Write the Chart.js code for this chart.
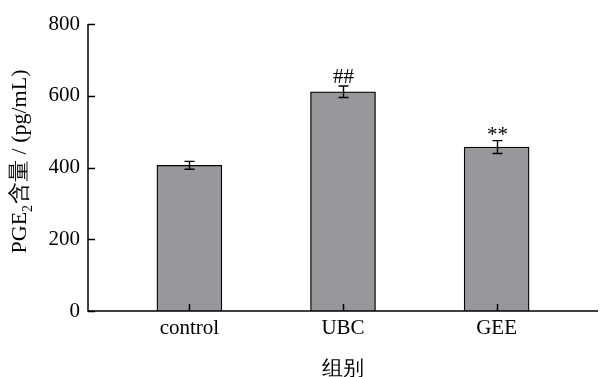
<!DOCTYPE html>
<html>
<head>
<meta charset="utf-8">
<script src="https://cdn.jsdelivr.net/npm/chart.js@4"></script>
<style>
  html, body { margin: 0; padding: 0; background: #fff; }
  #wrap { width: 600px; height: 377px; }
</style>
</head>
<body>
<div id="wrap"><canvas id="pge-chart"></canvas></div>
<script>
// groups, means, SD and significance marks
const groups = ["control", "UBC", "GEE"];
const groupPos = [1, 2, 3];
const means = [406, 611, 457];
const errors = [11, 16, 18];
const marks = ["", "##", "**"];
const yTicks = [0, 200, 400, 600, 800];

const serif = "'Liberation Serif', 'Times New Roman', serif";

// axes with inward ticks, error bars, marks and titles
const extras = {
    id: 'extras',
    afterDatasetsDraw(chart) {
        const ctx = chart.ctx;
        const x = chart.scales.x;
        const y = chart.scales.y;
        const a = chart.chartArea;
        ctx.save();
        ctx.strokeStyle = '#000';
        ctx.lineWidth = 1.5;

        // axis lines
        ctx.beginPath();
        ctx.moveTo(a.left, a.top);
        ctx.lineTo(a.left, y.getPixelForValue(0));
        ctx.lineTo(a.right, y.getPixelForValue(0));
        ctx.stroke();

        // inward ticks
        ctx.beginPath();
        yTicks.forEach(v => {
            const py = Math.round(y.getPixelForValue(v)) + 0.5;
            ctx.moveTo(a.left, py);
            ctx.lineTo(a.left + 7, py);
        });
        groupPos.forEach(p => {
            const px = Math.round(x.getPixelForValue(p)) + 0.5;
            ctx.moveTo(px, y.getPixelForValue(0));
            ctx.lineTo(px, y.getPixelForValue(0) - 7);
        });
        ctx.stroke();

        // error bars
        ctx.lineWidth = 1.4;
        groupPos.forEach((p, i) => {
            const px = Math.round(x.getPixelForValue(p)) + 0.5;
            const top = y.getPixelForValue(means[i] + errors[i]);
            const bot = y.getPixelForValue(means[i] - errors[i]);
            ctx.beginPath();
            ctx.moveTo(px, top); ctx.lineTo(px, bot);
            ctx.moveTo(px - 5, top); ctx.lineTo(px + 5, top);
            ctx.moveTo(px - 5, bot); ctx.lineTo(px + 5, bot);
            ctx.stroke();

            if (marks[i]) {
                ctx.font = '21px ' + serif;
                ctx.fillStyle = '#000';
                ctx.textAlign = 'center';
                ctx.textBaseline = 'alphabetic';
                const m = ctx.measureText(marks[i]);
                const h = m.actualBoundingBoxAscent + m.actualBoundingBoxDescent;
                const centre = top - 10;
                ctx.fillText(marks[i], px, centre + h / 2 - m.actualBoundingBoxDescent);
            }
        });

        // x title
        ctx.fillStyle = '#000';
        ctx.font = '21px ' + serif;
        ctx.textAlign = 'center';
        ctx.textBaseline = 'middle';
        ctx.fillText('组别', (a.left + a.right) / 2, 369);

        // y title with subscript
        ctx.translate(20, 162);
        ctx.rotate(-Math.PI / 2);
        ctx.textBaseline = 'middle';
        ctx.textAlign = 'left';
        const p1 = 'PGE', p2 = '2', p3 = '含量 / (pg/mL)';
        ctx.font = '22px ' + serif;
        const w1 = ctx.measureText(p1).width;
        const w3 = ctx.measureText(p3).width;
        ctx.font = '14px ' + serif;
        const w2 = ctx.measureText(p2).width;
        let cx = -(w1 + w2 + w3) / 2;
        ctx.font = '22px ' + serif;
        ctx.fillText(p1, cx, 0);
        cx += w1;
        ctx.font = '14px ' + serif;
        ctx.fillText(p2, cx, 8);
        cx += w2 + 1;
        ctx.font = '22px ' + serif;
        ctx.fillText(p3, cx, 0);
        ctx.restore();
    }
};

const pgeChart = new Chart(document.querySelector('#pge-chart'), {
    type: 'bar',
    data: {
        datasets: [{
            data: groupPos.map((p, i) => ({ x: p, y: means[i] })),
            backgroundColor: '#97989c',
            borderColor: '#000',
            borderWidth: 1.3,
            barThickness: 65
        }]
    },
    options: {
        responsive: true,
        maintainAspectRatio: false,
        animation: false,
        layout: { padding: { top: 24, right: 2, left: 0, bottom: 0 } },
        plugins: { legend: { display: false }, tooltip: { enabled: false } },
        scales: {
            x: {
                type: 'linear',
                offset: false,
                min: 0.34,
                max: 3.66,
                afterBuildTicks: s => { s.ticks = groupPos.map(v => ({ value: v })); },
                afterFit: s => { s.height = 66; },
                grid: { display: false, drawTicks: false, offset: false },
                border: { display: false },
                ticks: {
                    padding: 5,
                    color: '#000',
                    font: { family: serif, size: 21 },
                    callback: v => groups[v - 1]
                }
            },
            y: {
                min: 0,
                max: 800,
                afterBuildTicks: s => { s.ticks = yTicks.map(v => ({ value: v })); },
                afterFit: s => { s.width = 88; },
                grid: { display: false, drawTicks: false },
                border: { display: false },
                ticks: {
                    padding: 8,
                    color: '#000',
                    font: { family: serif, size: 21 }
                }
            }
        }
    },
    plugins: [extras]
});
</script>
</body>
</html>
